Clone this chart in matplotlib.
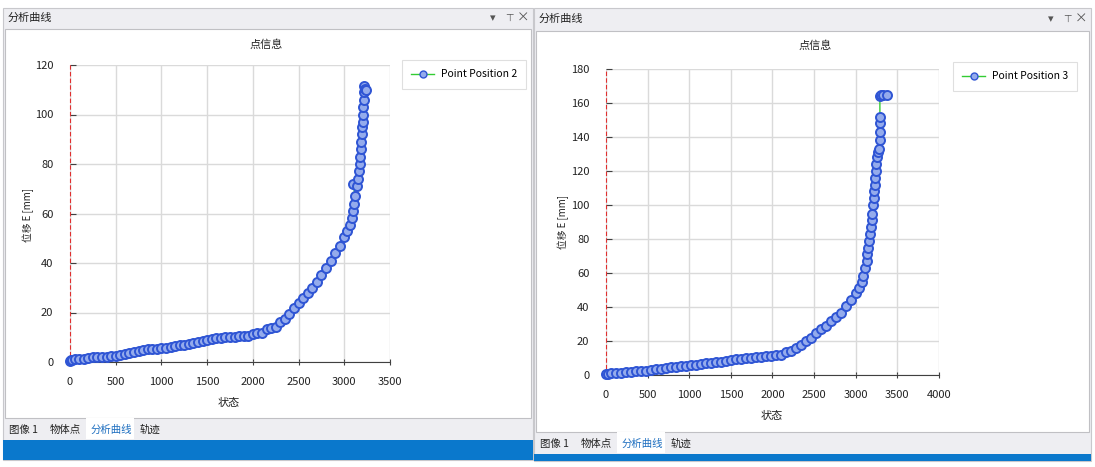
import matplotlib.pyplot as plt
from matplotlib.patches import Rectangle
from matplotlib.lines import Line2D

plt.rcParams['font.family'] = ['Noto Sans CJK SC', 'DejaVu Sans']

# ---- data ----
x_pos2 = [0, 10, 20, 50, 100, 150, 200, 250, 300, 350, 400, 450, 500, 550, 600, 650, 700, 750, 800, 850,
          900, 950, 1000, 1050, 1100, 1150, 1200, 1250, 1300, 1350, 1400, 1450, 1500, 1550, 1600, 1650,
          1700, 1750, 1800, 1850, 1900, 1950, 2000, 2050, 2100, 2150, 2200, 2250, 2300, 2350, 2400, 2450,
          2500, 2550, 2600, 2650, 2700, 2750, 2800, 2850, 2900, 2950, 3000, 3030, 3060, 3080, 3095, 3105,
          3115, 3100, 3135, 3145, 3160, 3170, 3175, 3180, 3185, 3190, 3195, 3200, 3205, 3208, 3212, 3216,
          3220, 3230, 3240]
y_pos2 = [0.5, 0.8, 1.0, 1.1, 1.2, 1.3, 1.5, 1.9, 2.1, 2.1, 2.2, 2.3, 2.4, 2.9, 3.3, 3.6, 4.0, 4.3, 4.8, 5.1,
          5.3, 5.4, 5.5, 5.8, 6.1, 6.4, 6.7, 7.0, 7.3, 7.6, 8.0, 8.3, 8.7, 9.2, 9.6, 9.8,
          10.0, 10.1, 10.3, 10.4, 10.5, 10.6, 11.2, 11.6, 11.8, 13.5, 13.8, 14.2, 16.0, 17.5, 19.5, 22.0,
          24.0, 26.0, 28.0, 30.0, 32.5, 35.0, 38.0, 41.0, 44.0, 47.0, 50.5, 53.0, 55.5, 58.0, 61.0, 64.0,
          67.0, 72.0, 71.0, 74.0, 77.0, 80.0, 83.0, 86.0, 89.0, 92.0, 95.0, 97.0, 100.0, 103.0, 106.0, 109.0,
          111.5, 110.5, 110.0]

x_pos3 = [0, 20, 60, 120, 180, 240, 300, 360, 420, 480, 540, 600, 660, 720, 780, 840, 900, 960, 1020,
          1080, 1140, 1200, 1260, 1320, 1380, 1440, 1500, 1560, 1620, 1680, 1740, 1800, 1860, 1920, 1980,
          2040, 2100, 2160, 2220, 2280, 2340, 2400, 2460, 2520, 2580, 2640, 2700, 2760, 2820, 2880, 2940,
          3000, 3040, 3070, 3090, 3110, 3130, 3140, 3150, 3160, 3170, 3180, 3190, 3200, 3210, 3215, 3225,
          3230, 3235, 3240, 3245, 3250, 3265, 3280, 3290, 3290, 3290, 3290, 3290, 3300, 3330, 3370]
y_pos3 = [0.5, 0.8, 1.0, 1.2, 1.4, 1.7, 2.0, 2.2, 2.4, 2.6, 3.0, 3.4, 3.8, 4.2, 4.6, 5.0, 5.3, 5.5, 5.7,
          6.0, 6.4, 6.8, 7.2, 7.5, 7.9, 8.3, 8.8, 9.3, 9.6, 9.9, 10.2, 10.5, 10.7, 10.9, 11.2,
          11.6, 12.0, 13.5, 14.0, 16.0, 17.5, 20.0, 22.0, 25.0, 27.0, 29.0, 31.5, 34.0, 36.5, 40.5, 44.0,
          48.0, 51.0, 55.0, 58.5, 63.0, 67.0, 71.0, 75.0, 79.0, 83.0, 87.0, 91.0, 95.0, 100.0, 104.0, 108.0,
          112.0, 116.0, 120.0, 124.0, 128.0, 131.0, 133.0, 138.0, 143.0, 148.0, 152.0, 164.0, 164.5, 165.0, 164.5]

W, H = 1095, 467
fig = plt.figure(figsize=(W / 100, H / 100), dpi=100)
fig.patch.set_facecolor('white')


def box(x, y, w, h):
    # pixel box (top-left origin) -> figure fraction
    return [x / W, 1 - (y + h) / H, w / W, h / H]


def rect(x, y, w, h, fc, ec='none', lw=0, z=0):
    fig.add_artist(Rectangle(box(x, y, w, h)[:2], w / W, h / H, transform=fig.transFigure,
                             facecolor=fc, edgecolor=ec, linewidth=lw, zorder=z))


def ftext(x, y, s, **kw):
    fig.text(x / W, 1 - y / H, s, **kw)


# ---- window chrome ----
panels = [
    dict(x=3, w=530, tt=8, tb=28, cb=418, tabb=439, bt=440, bb=460),
    dict(x=534, w=557, tt=8, tb=30, cb=432, tabb=453, bt=454, bb=461),
]
for p in panels:
    rect(p['x'], p['tt'], p['w'], p['bb'] - p['tt'], '#eeeef2', '#c8c8cc', 0.8)
    rect(p['x'] + 2, p['tb'] + 1, p['w'] - 4, p['cb'] - p['tb'] - 1, 'white', '#c0c0c4', 0.8)
    rect(p['x'], p['bt'], p['w'], p['bb'] - p['bt'], '#0a78cc')
    mid = (p['tt'] + p['tb']) / 2
    ftext(p['x'] + 5, mid, '分析曲线', fontsize=8, va='center', color='#222222')
    ftext(p['x'] + p['w'] - 40, mid, '▾', fontsize=8, va='center', ha='center', color='#555555')
    ftext(p['x'] + p['w'] - 24, mid, '⊤', fontsize=7, va='center', ha='center', color='#555555',
          family='DejaVu Sans')
    ftext(p['x'] + p['w'] - 10, mid, '×', fontsize=9, va='center', ha='center', color='#555555')
    ty = (p['cb'] + p['tabb']) / 2 + 1
    rect(p['x'] + 83, p['cb'], 48, p['tabb'] - p['cb'], 'white')
    ftext(p['x'] + 6, ty, '图像 1', fontsize=7.5, va='center', color='#222222')
    ftext(p['x'] + 47, ty, '物体点', fontsize=7.5, va='center', color='#222222')
    ftext(p['x'] + 88, ty, '分析曲线', fontsize=7.5, va='center', color='#1e6fc0')
    ftext(p['x'] + 137, ty, '轨迹', fontsize=7.5, va='center', color='#222222')


def draw_chart(axbox, xs, ys, xmax, ymax, ystep, label, title_xy, ylab_xy, xlab_xy, leg_xy):
    ax = fig.add_axes(box(*axbox))
    ax.set_facecolor('white')
    ax.plot(xs, ys, '-o', color='#33cc33', lw=1, markersize=6.5,
            markerfacecolor='#94abec', markeredgecolor='#2f55d4', markeredgewidth=1.4, zorder=3,
            clip_on=False)
    ax.set_xlim(0, xmax)
    ax.set_ylim(0, ymax)
    ax.set_xticks(range(0, xmax + 1, 500))
    ax.set_yticks(range(0, ymax + 1, ystep))
    ax.grid(True, color='#dadada', lw=1)
    ax.set_axisbelow(True)
    for s in ['top', 'right']:
        ax.spines[s].set_visible(False)
    ax.spines['bottom'].set_color('#404040')
    ax.spines['left'].set_color('#e03030')
    ax.spines['left'].set_linestyle((0, (3, 3)))
    ax.tick_params(axis='x', direction='inout', length=5, colors='#404040', labelsize=8,
                   labelcolor='#222222', pad=8)
    ax.tick_params(axis='y', direction='in', length=4, colors='#404040', labelsize=8,
                   labelcolor='#222222', pad=12)
    ftext(*title_xy, '点信息', fontsize=8, ha='center', va='center', color='#222222')
    ftext(*ylab_xy, '位移 E [mm]', fontsize=7, ha='center', va='center', rotation=90, color='#222222')
    ftext(*xlab_xy, '状态', fontsize=8, ha='center', va='center', color='#222222')
    handle = Line2D([], [], color='#33cc33', lw=1, marker='o', markersize=5,
                    markerfacecolor='#94abec', markeredgecolor='#2f55d4', markeredgewidth=1)
    leg = ax.legend([handle], [label], loc='upper left',
                    bbox_to_anchor=(leg_xy[0] / W, 1 - leg_xy[1] / H), bbox_transform=fig.transFigure,
                    fontsize=7.5, frameon=True, fancybox=False, edgecolor='#d8d8d8',
                    borderpad=0.9, handlelength=2.2, handletextpad=0.6, borderaxespad=0)
    leg.get_frame().set_linewidth(0.8)
    return ax


draw_chart((70, 65, 320, 297), x_pos2, y_pos2, 3500, 120, 20, 'Point Position 2',
           (266, 45), (28, 215), (229, 403), (402, 60))
draw_chart((606, 69, 333, 306), x_pos3, y_pos3, 4000, 180, 20, 'Point Position 3',
           (815, 46), (563, 222), (772, 416), (953, 62))

fig.savefig('out.png', dpi=100)
